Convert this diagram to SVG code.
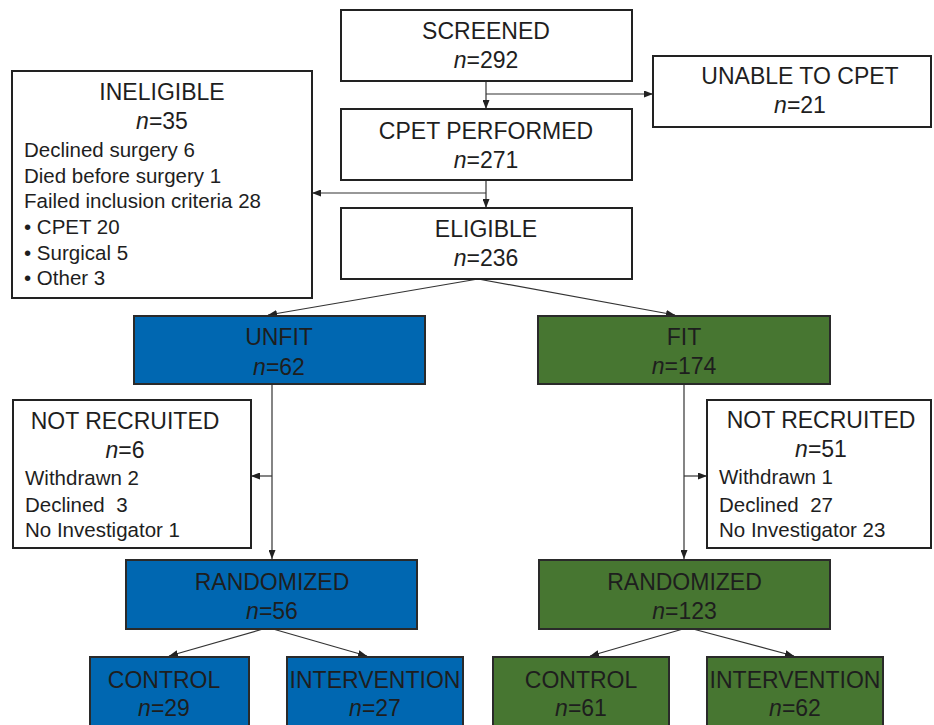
<svg xmlns="http://www.w3.org/2000/svg" width="934" height="725" viewBox="0 0 934 725">
<style>
.box{fill:#fff;stroke:#222;stroke-width:2}
.blue{fill:#0067b1;stroke:#2a2a2a;stroke-width:2}
.green{fill:#477631;stroke:#2a2a2a;stroke-width:2}
text{font-family:"Liberation Sans",Arial,sans-serif;fill:#1e1e1e}
.t{font-size:23px;text-anchor:middle}
.b{font-size:20.5px}
.i{font-style:italic}
.con line{stroke:#333;stroke-width:1.2;marker-end:url(#ah)}
</style>
<defs>
<marker id="ah" markerUnits="userSpaceOnUse" markerWidth="9" markerHeight="7" refX="9" refY="3.5" orient="auto">
<path d="M0,0 L9,3.5 L0,7 z" fill="#222"/>
</marker>
</defs>
<rect width="934" height="725" fill="#fff"/>
<g class="con">
<line x1="486" y1="81" x2="486" y2="109"/>
<line x1="486" y1="94" x2="653" y2="94"/>
<line x1="486" y1="180" x2="486" y2="208"/>
<line x1="486" y1="193" x2="312" y2="193"/>
<line x1="478" y1="279" x2="268" y2="315"/>
<line x1="478" y1="279" x2="675" y2="315"/>
<line x1="272" y1="384" x2="272" y2="559"/>
<line x1="272" y1="476" x2="251" y2="476"/>
<line x1="684" y1="384" x2="684" y2="559"/>
<line x1="684" y1="476" x2="707" y2="476"/>
<line x1="263" y1="629" x2="169" y2="656"/>
<line x1="273" y1="629" x2="367" y2="656"/>
<line x1="683" y1="629" x2="590" y2="656"/>
<line x1="693" y1="629" x2="794" y2="656"/>
</g>
<g id="screened">
<rect class="box" x="341" y="10" width="291" height="71"/>
<text class="t" x="486" y="39">SCREENED</text>
<text class="t" x="486" y="68"><tspan class="i">n</tspan>=292</text>
</g>
<g id="unable">
<rect class="box" x="653" y="56" width="278" height="71"/>
<text class="t" x="800" y="84">UNABLE TO CPET</text>
<text class="t" x="800" y="113"><tspan class="i">n</tspan>=21</text>
</g>
<g id="cpet">
<rect class="box" x="341" y="109" width="291" height="71"/>
<text class="t" x="486" y="139">CPET PERFORMED</text>
<text class="t" x="486" y="168"><tspan class="i">n</tspan>=271</text>
</g>
<g id="eligible">
<rect class="box" x="341" y="208" width="291" height="71"/>
<text class="t" x="486" y="237">ELIGIBLE</text>
<text class="t" x="486" y="266"><tspan class="i">n</tspan>=236</text>
</g>
<g id="ineligible">
<rect class="box" x="12" y="71" width="300" height="227"/>
<text class="t" x="162" y="100">INELIGIBLE</text>
<text class="t" x="162" y="129"><tspan class="i">n</tspan>=35</text>
<text class="b" x="24" y="157">Declined surgery 6</text>
<text class="b" x="24" y="182.5">Died before surgery 1</text>
<text class="b" x="24" y="208">Failed inclusion criteria 28</text>
<text class="b" x="24" y="234">• CPET 20</text>
<text class="b" x="24" y="259.5">• Surgical 5</text>
<text class="b" x="24" y="285">• Other 3</text>
</g>
<g id="unfit">
<rect class="blue" x="134" y="316" width="291" height="68"/>
<text class="t" x="279" y="345">UNFIT</text>
<text class="t" x="279" y="375"><tspan class="i">n</tspan>=62</text>
</g>
<g id="fit">
<rect class="green" x="538" y="316" width="292" height="68"/>
<text class="t" x="684" y="345">FIT</text>
<text class="t" x="684" y="374"><tspan class="i">n</tspan>=174</text>
</g>
<g id="notrec-left">
<rect class="box" x="13" y="400" width="238" height="148"/>
<text class="t" x="125" y="429">NOT RECRUITED</text>
<text class="t" x="125" y="458"><tspan class="i">n</tspan>=6</text>
<text class="b" x="25" y="485">Withdrawn 2</text>
<text class="b" x="25" y="511.5">Declined&#160; 3</text>
<text class="b" x="25" y="537">No Investigator 1</text>
</g>
<g id="notrec-right">
<rect class="box" x="707" y="400" width="224" height="148"/>
<text class="t" x="821" y="428">NOT RECRUITED</text>
<text class="t" x="821" y="457"><tspan class="i">n</tspan>=51</text>
<text class="b" x="719" y="484">Withdrawn 1</text>
<text class="b" x="719" y="511.5">Declined&#160; 27</text>
<text class="b" x="719" y="537">No Investigator 23</text>
</g>
<g id="rand-left">
<rect class="blue" x="126" y="560" width="291" height="69"/>
<text class="t" x="272" y="590">RANDOMIZED</text>
<text class="t" x="272" y="619"><tspan class="i">n</tspan>=56</text>
</g>
<g id="rand-right">
<rect class="green" x="539" y="560" width="291" height="69"/>
<text class="t" x="684.5" y="590">RANDOMIZED</text>
<text class="t" x="684.5" y="619"><tspan class="i">n</tspan>=123</text>
</g>
<g id="control-left">
<rect class="blue" x="90" y="657" width="159" height="80"/>
<text class="t" x="164" y="688">CONTROL</text>
<text class="t" x="164" y="716"><tspan class="i">n</tspan>=29</text>
</g>
<g id="intervention-left">
<rect class="blue" x="287" y="657" width="176" height="80"/>
<text class="t" x="375" y="688">INTERVENTION</text>
<text class="t" x="375" y="716"><tspan class="i">n</tspan>=27</text>
</g>
<g id="control-right">
<rect class="green" x="493" y="657" width="176" height="80"/>
<text class="t" x="581" y="688">CONTROL</text>
<text class="t" x="581" y="716"><tspan class="i">n</tspan>=61</text>
</g>
<g id="intervention-right">
<rect class="green" x="707" y="657" width="176" height="80"/>
<text class="t" x="795" y="688">INTERVENTION</text>
<text class="t" x="795" y="716"><tspan class="i">n</tspan>=62</text>
</g>
</svg>
